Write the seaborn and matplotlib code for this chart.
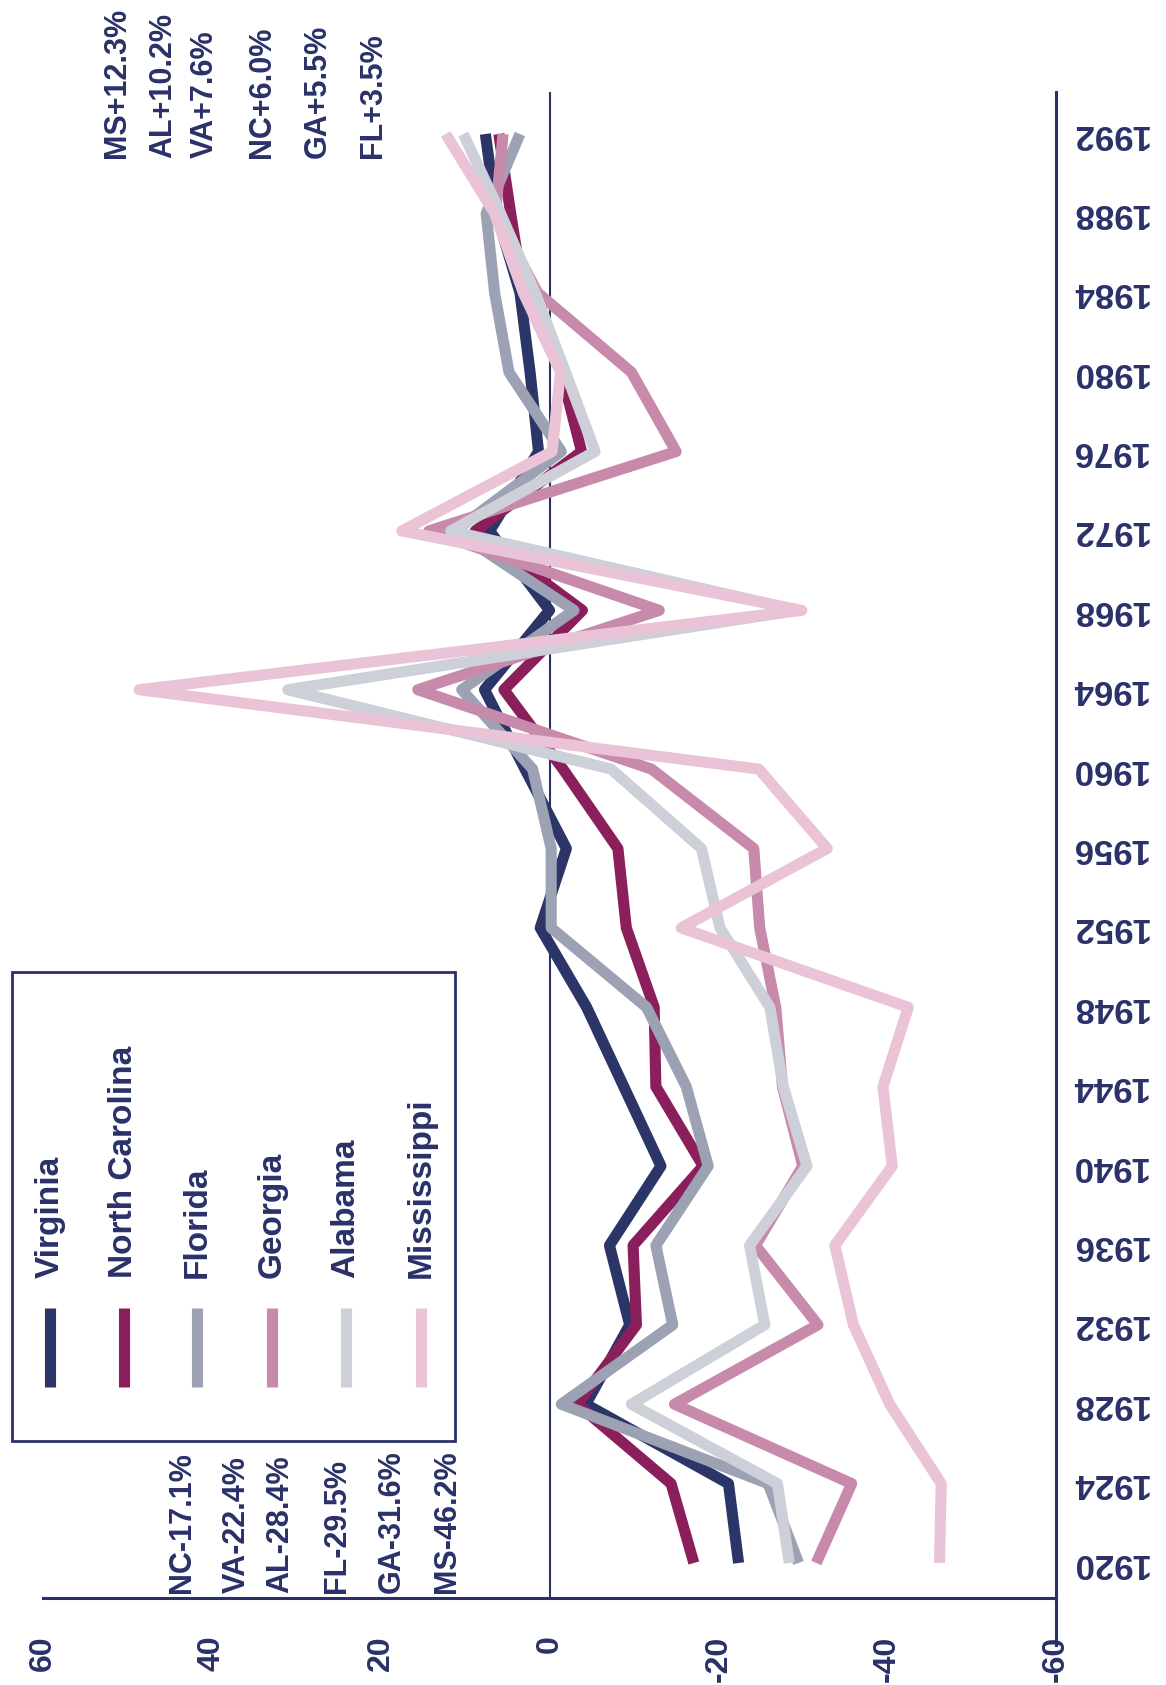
"""Southern states vs national Republican presidential vote, 1920-1992.

The printed chart is turned on its side, so the values run along the
bottom (60 on the left) and the election years run up the right edge.
"""

import matplotlib

matplotlib.use("Agg")
import matplotlib.pyplot as plt
import pandas as pd
import seaborn as sns
from matplotlib.lines import Line2D
from matplotlib.patches import Rectangle


# Data
YEARS = [1920, 1924, 1928, 1932, 1936, 1940, 1944, 1948, 1952, 1956,
         1960, 1964, 1968, 1972, 1976, 1980, 1984, 1988, 1992]

VIRGINIA = [-22.4, -21.2, -4.3, -9.5, -7.1, -13.2, -8.8, -4.4, 1.1, -2.0,
            2.9, 7.7, 0.0, 7.1, 1.3, 2.3, 3.5, 6.3, 7.6]
NORTH_CAROLINA = [-17.1, -14.4, -3.3, -10.3, -9.9, -18.2, -12.6, -12.4, -9.1, -8.1,
                  -1.6, 5.4, -3.9, 8.8, -3.8, -1.4, 3.1, 4.6, 6.0]
FLORIDA = [-29.5, -25.9, -1.4, -14.6, -12.6, -18.8, -16.2, -11.5, -0.2, -0.2,
           2.0, 10.4, -2.9, 11.2, -1.4, 4.8, 6.5, 7.5, 3.5]
GEORGIA = [-31.6, -35.8, -14.8, -31.8, -24.4, -30.0, -27.6, -26.8, -24.9, -24.2,
           -12.1, 15.6, -13.0, 14.3, -15.0, -9.7, 1.4, 6.4, 5.5]
ALABAMA = [-28.4, -27.0, -9.7, -25.5, -23.7, -30.5, -27.7, -26.1, -20.2, -18.0,
           -7.3, 31.0, -29.4, 11.7, -5.4, -1.9, 1.7, 5.8, 10.2]
MISSISSIPPI = [-46.2, -46.4, -40.3, -36.0, -33.8, -40.6, -39.5, -42.5, -15.6, -32.9,
               -24.8, 48.6, -29.9, 17.5, -0.3, -1.3, 3.1, 6.5, 12.3]

STATES = ["Virginia", "North Carolina", "Florida", "Georgia", "Alabama", "Mississippi"]
STATE_VALUES = [VIRGINIA, NORTH_CAROLINA, FLORIDA, GEORGIA, ALABAMA, MISSISSIPPI]
STATE_COLORS = ["#2c3567", "#8b1f5c", "#9ca2b3", "#c88aab", "#cdd0d9", "#eac4d6"]

VALUE_TICKS = [60, 40, 20, 0, -20, -40, -60]
VALUE_TICK_LABELS = ["60", "40", "20", "0", "-20", "-40", "-60"]

END_LABELS_1992 = ["MS+12.3%", "AL+10.2%", "VA+7.6%", "NC+6.0%", "GA+5.5%", "FL+3.5%"]
END_LABELS_1920 = ["NC-17.1%", "VA-22.4%", "AL-28.4%", "FL-29.5%", "GA-31.6%", "MS-46.2%"]

# Layout, in pixels of the 1166 x 1685 picture (y measured from the top)
WIDTH, HEIGHT = 1166, 1685
NAVY = "#2a3169"
PLOT_LEFT, PLOT_RIGHT = 43, 1056
PLOT_TOP, PLOT_BOTTOM = 92, 1645
AXIS_LINE_Y = 1598
Y_1920, Y_1992 = 1563, 134
TOP_LABEL_X = [117, 163, 205, 262, 318, 373]
BOTTOM_LABEL_X = [182, 237, 280, 337, 392, 447]
LEGEND_X = [50, 124, 197, 272, 346, 421]
LINE_WIDTH = 8


def fx(x):
    return x / WIDTH


def fy(y):
    return 1 - y / HEIGHT


def year_at(y_px):
    """Convert a pixel row to a year on the data scale."""
    per_year = (Y_1920 - Y_1992) / (YEARS[-1] - YEARS[0])
    return YEARS[0] + (Y_1920 - y_px) / per_year


def build_dataframe():
    rows = []
    for state, values in zip(STATES, STATE_VALUES):
        for year, value in zip(YEARS, values):
            rows.append({"State": state, "Year": year, "Margin": value})
    return pd.DataFrame(rows)


def main():
    sns.set_theme(style="white")
    plt.rcParams["font.family"] = ["Liberation Sans", "DejaVu Sans"]
    plt.rcParams["font.weight"] = "bold"
    plt.rcParams["lines.solid_capstyle"] = "butt"
    plt.rcParams["lines.solid_joinstyle"] = "round"

    df = build_dataframe()

    fig = plt.figure(figsize=(WIDTH / 100, HEIGHT / 100), dpi=100)
    fig.patch.set_facecolor("white")
    ax = fig.add_axes([
        fx(PLOT_LEFT),
        fy(PLOT_BOTTOM),
        fx(PLOT_RIGHT) - fx(PLOT_LEFT),
        fy(PLOT_TOP) - fy(PLOT_BOTTOM),
    ])

    y_low, y_high = year_at(PLOT_BOTTOM), year_at(PLOT_TOP)
    axis_year = year_at(AXIS_LINE_Y)

    ax.vlines(0, axis_year, y_high, color=NAVY, linewidth=1.5, zorder=1)

    sns.lineplot(
        data=df,
        x="Margin",
        y="Year",
        hue="State",
        hue_order=STATES,
        palette=dict(zip(STATES, STATE_COLORS)),
        orient="y",
        estimator=None,
        linewidth=LINE_WIDTH,
        legend=False,
        ax=ax,
    )

    ax.set_xlim(60, -60)
    ax.set_ylim(y_low, y_high)
    ax.set_xlabel("")
    ax.set_ylabel("")

    for side in ["top", "left"]:
        ax.spines[side].set_visible(False)
    ax.spines["right"].set_color(NAVY)
    ax.spines["right"].set_linewidth(2.2)
    ax.spines["bottom"].set_color(NAVY)
    ax.spines["bottom"].set_linewidth(2.2)
    ax.spines["bottom"].set_position(("data", axis_year))

    ax.set_xticks(VALUE_TICKS)
    ax.set_xticklabels(VALUE_TICK_LABELS, rotation=90, fontweight="bold")
    ax.tick_params(axis="x", direction="out", length=18, width=2, color=NAVY,
                   pad=9, labelsize=23, labelcolor=NAVY)

    ax.yaxis.tick_right()
    ax.set_yticks(YEARS)
    ax.set_yticklabels([str(y) for y in YEARS], rotation=180, fontweight="bold",
                       va="center")
    ax.tick_params(axis="y", length=0, pad=10, labelsize=25, labelcolor=NAVY)

    # End-of-period figures, written sideways like the rest of the chart
    for x, text in zip(TOP_LABEL_X, END_LABELS_1992):
        fig.text(fx(x), fy(158), text, rotation=90, ha="center", va="bottom",
                 fontsize=22, color=NAVY, fontweight="bold")
    for x, text in zip(BOTTOM_LABEL_X, END_LABELS_1920):
        fig.text(fx(x), fy(1593), text, rotation=90, ha="center", va="bottom",
                 fontsize=22, color=NAVY, fontweight="bold")

    # Hand-made legend box (rotated, so the built-in legend will not do)
    fig.add_artist(Rectangle(
        (fx(12), fy(1441)), fx(455) - fx(12), fy(972) - fy(1441),
        transform=fig.transFigure, fill=False, edgecolor=NAVY, linewidth=2,
    ))
    for x, state, color in zip(LEGEND_X, STATES, STATE_COLORS):
        fig.add_artist(Line2D([fx(x), fx(x)], [fy(1308), fy(1387)],
                              transform=fig.transFigure, color=color,
                              linewidth=LINE_WIDTH, solid_capstyle="butt"))
        fig.text(fx(x), fy(1278), state, rotation=90, ha="center", va="bottom",
                 fontsize=24, color=NAVY, fontweight="bold")

    fig.savefig("out.png", dpi=100, facecolor="white")
    plt.close(fig)


if __name__ == "__main__":
    main()
